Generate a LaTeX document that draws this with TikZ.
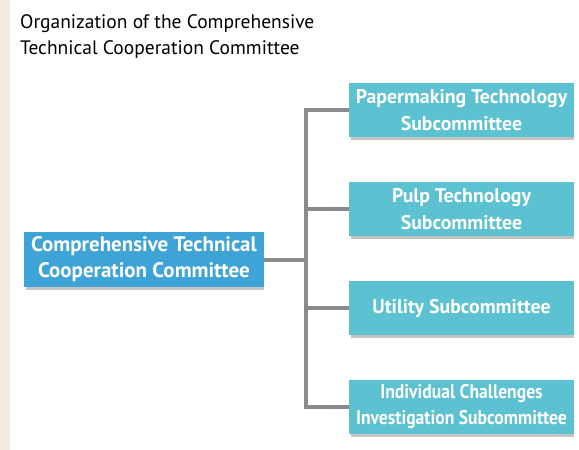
\documentclass[tikz,border=0pt]{standalone}
\usepackage{fontspec}
\usepackage{graphicx}
\usetikzlibrary{backgrounds}
\setmainfont{PT Sans}
\definecolor{stripc}{RGB}{240,236,226}
\definecolor{mainc}{RGB}{62,163,213}
\definecolor{subc}{RGB}{92,193,208}
\definecolor{linec}{RGB}{138,138,138}
\definecolor{shadc}{RGB}{195,195,195}
\tikzset{
  box/.style={fill=#1, text=white, align=center, inner sep=0pt},
  mainbox/.style={box=mainc, minimum width=240pt, minimum height=55pt,
    font=\bfseries\fontsize{21}{26}\selectfont},
  subbox/.style={box=subc, minimum width=225pt, minimum height=54pt,
    font=\bfseries\fontsize{19.8}{26.5}\selectfont},
  conn/.style={draw=linec, line width=4pt, line join=miter},
}
\newcommand{\myshad}[1]{\fill[shadc] ([xshift=2pt,yshift=-3pt]#1.south west) rectangle (#1.east);}
\begin{document}
\begin{tikzpicture}[x=1pt,y=-1pt]
\useasboundingbox (0,0) rectangle (579,450);
\node[anchor=base west, align=left, inner sep=0pt, font=\fontsize{19.5}{26}\selectfont] (title) at (20,54.5)
  {Organization of the Comprehensive\\Technical Cooperation Committee};
\node[mainbox] (main) at (144,259.5) {Comprehensive Technical\\Cooperation Committee};
\node[subbox] (s1) at (461.5,110) {Papermaking Technology\\Subcommittee};
\node[subbox] (s2) at (461.5,209) {Pulp Technology\\Subcommittee};
\node[subbox] (s3) at (461.5,308) {Utility Subcommittee};
\node[subbox] (s4) at (461.5,406.5) {\scalebox{0.89}[1]{Individual Challenges}\\\scalebox{0.89}[1]{Investigation Subcommittee}};
\begin{scope}[on background layer]
\fill[white] (0,0) rectangle (579,450);
\fill[stripc] (0,0) rectangle (10,450);
\myshad{main}
\myshad{s1}
\myshad{s2}
\myshad{s3}
\myshad{s4}
\end{scope}
\coordinate (bus) at (306,259.5);
\draw[conn] (main.east) -- (bus);
\draw[conn] (s1.west) -| (bus) |- (s4.west);
\draw[conn] (s2.west) -- (s2.west -| bus);
\draw[conn] (s3.west) -- (s3.west -| bus);
\end{tikzpicture}
\end{document}
